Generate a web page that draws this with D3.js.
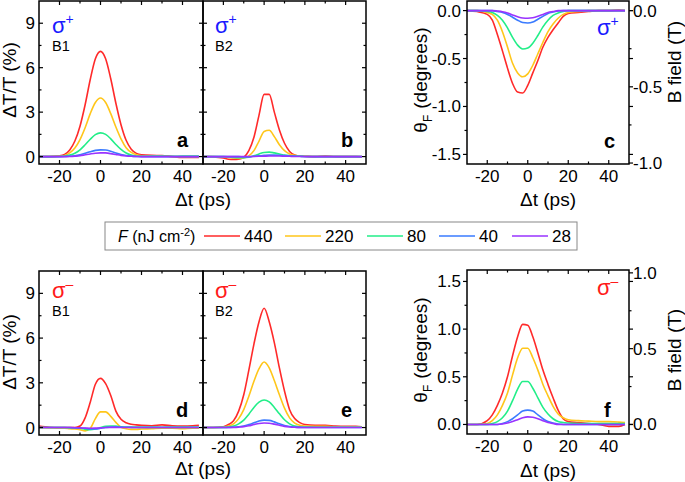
<!DOCTYPE html>
<html>
<head>
<meta charset="utf-8">
<script src="https://cdn.jsdelivr.net/npm/d3@7"></script>
<style>
  body { margin: 0; background: #fff; }
  svg { display: block; font-family: "Liberation Sans", Arial, sans-serif; }
</style>
</head>
<body>
<svg id="fig" width="685" height="482"></svg>
<script>
// delay times (ps) shared by all curves
const T = [-30,-25,-20,-17.5,-15,-12.5,-10,-7.5,-5,-2.5,0,2.5,5,7.5,10,12.5,15,17.5,20,25,30,35,40,45,48];

const FLUENCE = ["440", "220", "80", "40", "28"];
const COLORS  = ["#ff2a2a", "#ffc61a", "#22ee88", "#3a7bff", "#9933ff"];

// dT/T (%) , B1 sigma+ (panel a)
const A_440 = [0,0,0.05,0.15,0.45,1.05,2.05,3.5,5.2,6.6,7.1,6.6,5.25,3.6,2.15,1.1,0.5,0.22,0.12,0.08,0.07,0,-0.05,-0.05,-0.05];
const A_220 = [0,0,0.03,0.08,0.25,0.58,1.15,1.95,2.9,3.65,3.95,3.65,2.9,2.0,1.2,0.6,0.28,0.12,0.06,0.05,0.04,0,0,0,0];
const A_80  = [0,0,0.01,0.03,0.1,0.23,0.46,0.8,1.17,1.48,1.6,1.5,1.2,0.82,0.48,0.24,0.1,0.04,0.02,0.03,0.03,0.02,0.03,0.03,0.03];
const A_40  = [0,0,0,0.01,0.02,0.05,0.12,0.22,0.33,0.42,0.45,0.44,0.36,0.24,0.14,0.07,0.03,0.01,0,0,0,0,0,0,0];
const A_28  = [0,0,0,0,0.01,0.03,0.06,0.12,0.18,0.23,0.25,0.25,0.2,0.14,0.08,0.04,0.02,0.01,0,0,0,0,0,0,0];

// dT/T (%) , B2 sigma+ (panel b)
const B_440 = [0,-0.02,-0.1,-0.18,-0.2,-0.18,-0.05,0.4,1.3,2.8,4.2,4.2,3.0,1.8,0.9,0.35,0.1,0.03,0.02,0,0.04,0,0,0,-0.02];
const B_220 = [0,0,-0.03,-0.06,-0.1,-0.12,-0.1,0.05,0.4,1.05,1.7,1.78,1.35,0.8,0.4,0.18,0.08,0.04,0.02,0,0,0,0,0,0];
const B_80  = [0,0,0,-0.02,-0.05,-0.07,-0.08,-0.05,0.05,0.18,0.28,0.3,0.25,0.18,0.1,0.06,0.03,0.02,0.01,0,0,0,0,0,0];
const B_40  = [0,0,0,0,0,0,-0.02,-0.01,0.02,0.05,0.08,0.1,0.1,0.09,0.07,0.05,0.03,0.02,0.01,0,0,0,0,0,0];
const B_28  = [0,0,0,0,0,0,0,0,0.01,0.02,0.03,0.04,0.04,0.04,0.03,0.02,0.01,0.01,0,0,0,0,0,0,0];

// Faraday rotation (deg) , sigma+ (panel c)
const C_440 = [0,-0.01,-0.04,-0.1,-0.25,-0.42,-0.6,-0.76,-0.85,-0.86,-0.78,-0.65,-0.52,-0.38,-0.28,-0.2,-0.13,-0.06,-0.03,-0.02,-0.01,0,0,0.005,0];
const C_220 = [0,0,-0.02,-0.04,-0.1,-0.22,-0.38,-0.55,-0.65,-0.69,-0.66,-0.57,-0.45,-0.33,-0.22,-0.14,-0.08,-0.04,-0.02,-0.01,0,0,0,0,0];
const C_80  = [0,0,-0.01,-0.02,-0.05,-0.1,-0.18,-0.28,-0.36,-0.4,-0.39,-0.34,-0.26,-0.17,-0.1,-0.05,-0.025,-0.01,0,0,0,0,0,0,0];
const C_40  = [0,0,0,0,-0.01,-0.02,-0.04,-0.07,-0.1,-0.125,-0.13,-0.12,-0.09,-0.06,-0.03,-0.015,-0.005,0,0,0,0,0,0,0,0];
const C_28  = [0,0,0,0,-0.005,-0.012,-0.025,-0.045,-0.065,-0.078,-0.08,-0.075,-0.06,-0.04,-0.02,-0.01,0,0,0,0,0,0,0,0,0];

// dT/T (%) , B1 sigma- (panel d)
const D_440 = [0.1,0.02,0,0,0,0,0.1,0.65,1.7,2.9,3.3,2.95,2.15,1.1,0.55,0.32,0.22,0.18,0.15,0.12,0.18,0.12,0.1,0.12,0.15];
const D_220 = [0,-0.02,-0.05,-0.05,-0.08,-0.1,-0.15,-0.22,-0.05,0.6,1.05,1.05,0.75,0.35,0.02,-0.08,-0.12,-0.12,-0.1,-0.08,-0.05,-0.05,-0.08,-0.05,-0.05];
const D_80  = [0,0,0,0,-0.02,-0.03,-0.05,-0.12,-0.15,-0.1,0,0.08,0.1,0.1,0.05,0.03,0.03,0.03,0.03,0.03,0.02,0.03,0.03,0.03,0.03];
const D_40  = [0,0,0,0,0,-0.02,-0.03,-0.05,-0.1,-0.1,-0.05,0,0.04,0.05,0.03,0.02,0.01,0,0,0,0,0,0,0,0];
const D_28  = [0,0,0,0,0,-0.01,-0.02,-0.04,-0.05,-0.04,-0.02,0,0.01,0.01,0,0,0,0,0,0,0,0,0,0,0];

// dT/T (%) , B2 sigma- (panel e)
const E_440 = [0,0,0.05,0.2,0.45,1.1,2.2,3.85,5.6,7.1,8.0,7.1,5.7,4.0,2.45,1.2,0.6,0.33,0.2,0.15,0.15,0.1,0.08,0.08,0.05];
const E_220 = [0,0,0.02,0.1,0.25,0.6,1.2,2.1,3.1,3.95,4.4,4.0,3.15,2.2,1.3,0.65,0.3,0.15,0.1,0.08,0.08,0.05,0.05,0.05,0.05];
const E_80  = [0,0,0.01,0.03,0.1,0.25,0.5,0.9,1.35,1.7,1.85,1.72,1.35,0.92,0.52,0.25,0.1,0.05,0.03,0.02,0.02,0.02,0.02,0.02,0.02];
const E_40  = [0,0,0,0.01,0.02,0.05,0.1,0.2,0.32,0.44,0.5,0.48,0.38,0.25,0.14,0.07,0.03,0.01,0,0,0,0,0,0,0];
const E_28  = [0,0,0,0,0.01,0.03,0.06,0.12,0.2,0.27,0.3,0.29,0.23,0.15,0.08,0.04,0.02,0.01,0,0,0,0,0,0,0];

// Faraday rotation (deg) , sigma- (panel f)
const F_440 = [0,0,0.04,0.1,0.2,0.33,0.5,0.72,0.92,1.05,1.04,0.92,0.75,0.57,0.42,0.28,0.15,0.06,0.03,0.02,0.01,0,-0.02,-0.02,0];
const F_220 = [0,0,0.01,0.04,0.1,0.2,0.33,0.52,0.7,0.8,0.8,0.7,0.57,0.42,0.3,0.19,0.11,0.07,0.05,0.04,0.035,0.03,0.03,0.025,0.02];
const F_80  = [0,0,0,0.01,0.03,0.07,0.14,0.25,0.37,0.45,0.45,0.38,0.28,0.18,0.11,0.06,0.03,0.02,0.015,0.01,0.01,0.01,0.01,0.01,0.01];
const F_40  = [0,0,0,0,0,0.01,0.03,0.06,0.1,0.14,0.15,0.14,0.1,0.06,0.03,0.015,0.005,0,0,0,0,0,0,0,0];
const F_28  = [0,0,0,0,0,0.005,0.015,0.03,0.05,0.07,0.08,0.075,0.06,0.04,0.02,0.01,0,0,0,0,0,0,0,0,0];

const DEG_PER_T = 1.59;   // theta_F -> B field conversion for the right axis

const svg = d3.select("#fig");
const FONT_TICK = 17, FONT_TITLE = 19;

function drawPanel(p) {
  const x = d3.scaleLinear().domain([-30, 50]).range([p.x0, p.x1]);
  const y = d3.scaleLinear().domain(p.yDom).range([p.y1, p.y0]);
  const g = svg.append("g");

  // curves, highest fluence first so the small ones sit on top
  const line = d3.line().x((d, i) => x(T[i])).y(d => y(d)).curve(d3.curveMonotoneX);
  p.series.forEach((s, k) => {
    g.append("path").datum(s).attr("d", line)
      .attr("fill", "none").attr("stroke", COLORS[k]).attr("stroke-width", 1.6);
  });

  // frame
  g.append("rect").attr("x", p.x0).attr("y", p.y0)
    .attr("width", p.x1 - p.x0).attr("height", p.y1 - p.y0)
    .attr("fill", "none").attr("stroke", "#000").attr("stroke-width", 1.5);

  // x ticks, inward, bottom and top
  const xMaj = [-20, 0, 20, 40], xMin = [-10, 10, 30];
  const tk = (x1, y1, x2, y2) => g.append("line").attr("x1", x1).attr("y1", y1).attr("x2", x2).attr("y2", y2)
    .attr("stroke", "#000").attr("stroke-width", 1.2);
  xMaj.forEach(v => { tk(x(v), p.y1, x(v), p.y1 - 4); tk(x(v), p.y0, x(v), p.y0 + 4); });
  xMin.forEach(v => { tk(x(v), p.y1, x(v), p.y1 - 2.5); tk(x(v), p.y0, x(v), p.y0 + 2.5); });
  xMaj.forEach(v => g.append("text").attr("x", x(v)).attr("y", p.y1 + 18)
    .attr("text-anchor", "middle").style("font-size", FONT_TICK + "px").text(String(v)));

  // y ticks
  const dir = p.outY ? -1 : 1;
  p.yMaj.forEach(v => { tk(p.x0, y(v), p.x0 + dir * 4, y(v)); tk(p.x1, y(v), p.x1 - dir * 4, y(v)); });
  p.yMin.forEach(v => { tk(p.x0, y(v), p.x0 + dir * 2.5, y(v)); if (!p.right) tk(p.x1, y(v), p.x1 - dir * 2.5, y(v)); });
  if (p.yLabels) {
    p.yMaj.forEach(v => g.append("text").attr("x", p.x0 - (p.outY ? 6 : 4)).attr("y", y(v) + 6)
      .attr("text-anchor", "end").style("font-size", FONT_TICK + "px").text(p.fmt(v)));
  }

  // right-hand B field axis
  if (p.right) {
    const yb = d3.scaleLinear().domain(p.yDom.map(v => v / DEG_PER_T)).range([p.y1, p.y0]);
    p.right.maj.forEach(v => {
      tk(p.x1, yb(v), p.x1 + 4, yb(v));
      g.append("text").attr("x", p.x1 + 4).attr("y", yb(v) + 6)
        .style("font-size", FONT_TICK + "px").text(v.toFixed(1));
    });
    p.right.min.forEach(v => tk(p.x1, yb(v), p.x1 + 2.5, yb(v)));
  }

  // polarisation / sample / panel letter
  const sig = g.append("text").attr("x", p.sx).attr("y", p.sy)
    .style("font-size", "22px").style("fill", p.sCol).text("σ");
  sig.append("tspan").attr("dy", -9).style("font-size", "14px").text(p.sSign);
  if (p.sample) g.append("text").attr("x", p.sx).attr("y", p.sy + 18)
    .style("font-size", "14.5px").text(p.sample);
  g.append("text").attr("x", p.lx).attr("y", p.ly)
    .style("font-size", "20px").style("font-weight", "bold").text(p.letter);
}

const fmtInt = v => String(v);
const fmt1 = v => v.toFixed(1);

const dtMaj = [0, 3, 6, 9], dtMin = [1.5, 4.5, 7.5];

drawPanel({ x0: 39, x1: 203, y0: 1, y1: 164, yDom: [-0.5, 10.5], series: [A_440, A_220, A_80, A_40, A_28],
  yMaj: dtMaj, yMin: dtMin, yLabels: true, fmt: fmtInt,
  sx: 52, sy: 33, sCol: "#1a1aff", sSign: "+", sample: "B1", letter: "a", lx: 177, ly: 147 });
drawPanel({ x0: 203, x1: 366, y0: 1, y1: 164, yDom: [-0.5, 10.5], series: [B_440, B_220, B_80, B_40, B_28],
  yMaj: dtMaj, yMin: dtMin, yLabels: false,
  sx: 215, sy: 33, sCol: "#1a1aff", sSign: "+", sample: "B2", letter: "b", lx: 341, ly: 147 });
drawPanel({ x0: 467, x1: 629, y0: 1, y1: 164, yDom: [-1.6, 0.1], series: [C_440, C_220, C_80, C_40, C_28],
  yMaj: [0, -0.5, -1.0, -1.5], yMin: [-0.25, -0.75, -1.25], yLabels: true, fmt: fmt1, outY: true,
  right: { maj: [0, -0.5, -1.0], min: [-0.25, -0.75] },
  sx: 597, sy: 35, sCol: "#1a1aff", sSign: "+", letter: "c", lx: 604, ly: 148 });
drawPanel({ x0: 39, x1: 203, y0: 271, y1: 435, yDom: [-0.5, 10.5], series: [D_440, D_220, D_80, D_40, D_28],
  yMaj: dtMaj, yMin: dtMin, yLabels: true, fmt: fmtInt,
  sx: 52, sy: 298, sCol: "#ff1a1a", sSign: "\u2013", sample: "B1", letter: "d", lx: 176, ly: 417 });
drawPanel({ x0: 203, x1: 366, y0: 271, y1: 435, yDom: [-0.5, 10.5], series: [E_440, E_220, E_80, E_40, E_28],
  yMaj: dtMaj, yMin: dtMin, yLabels: false,
  sx: 215, sy: 298, sCol: "#ff1a1a", sSign: "\u2013", sample: "B2", letter: "e", lx: 341, ly: 417 });
drawPanel({ x0: 467, x1: 629, y0: 270, y1: 434, yDom: [-0.1, 1.62], series: [F_440, F_220, F_80, F_40, F_28],
  yMaj: [0, 0.5, 1.0, 1.5], yMin: [0.25, 0.75, 1.25], yLabels: true, fmt: fmt1, outY: true,
  right: { maj: [0, 0.5, 1.0], min: [0.25, 0.75] },
  sx: 597, sy: 295, sCol: "#ff1a1a", sSign: "\u2013", letter: "f", lx: 604, ly: 417 });

// axis titles
function title(txt, x, y, rot) {
  const t = svg.append("text").attr("text-anchor", "middle").style("font-size", FONT_TITLE + "px")
    .attr("transform", `translate(${x},${y})` + (rot ? " rotate(-90)" : ""));
  return t.text(txt);
}
title("\u0394t (ps)", 203, 206);
title("\u0394t (ps)", 548, 206);
title("\u0394t (ps)", 203, 475);
title("\u0394t (ps)", 548, 477);
title("\u0394T/T (%)", 16, 80, true);
title("\u0394T/T (%)", 16, 352, true);
title("B field (T)", 681, 62, true);
title("B field (T)", 681, 350, true);
["80", "350"].forEach(cy => {
  const t = svg.append("text").attr("text-anchor", "middle").style("font-size", FONT_TITLE + "px")
    .attr("transform", `translate(427,${cy}) rotate(-90)`);
  t.append("tspan").text("\u03b8");
  t.append("tspan").attr("dy", 5).style("font-size", "12px").text("F");
  t.append("tspan").attr("dy", -5).attr("dx", 6).text("(degrees)");
});

// fluence legend
const lg = svg.append("g");
lg.append("rect").attr("x", 105).attr("y", 222).attr("width", 472).attr("height", 28)
  .attr("fill", "#fff").attr("stroke", "#888").attr("stroke-width", 1);
const lt = lg.append("text").attr("x", 118).attr("y", 242).style("font-size", "16px");
lt.append("tspan").style("font-style", "italic").text("F");
lt.append("tspan").text(" (nJ cm");
lt.append("tspan").attr("dy", -6).style("font-size", "11px").text("-2");
lt.append("tspan").attr("dy", 6).text(")");
const legX = [204, 285, 367, 439, 512];
FLUENCE.forEach((f, k) => {
  lg.append("line").attr("x1", legX[k]).attr("x2", legX[k] + 36).attr("y1", 236).attr("y2", 236)
    .attr("stroke", COLORS[k]).attr("stroke-width", 1.6);
  lg.append("text").attr("x", legX[k] + 40).attr("y", 242).style("font-size", "17px").text(f);
});
</script>
</body>
</html>
